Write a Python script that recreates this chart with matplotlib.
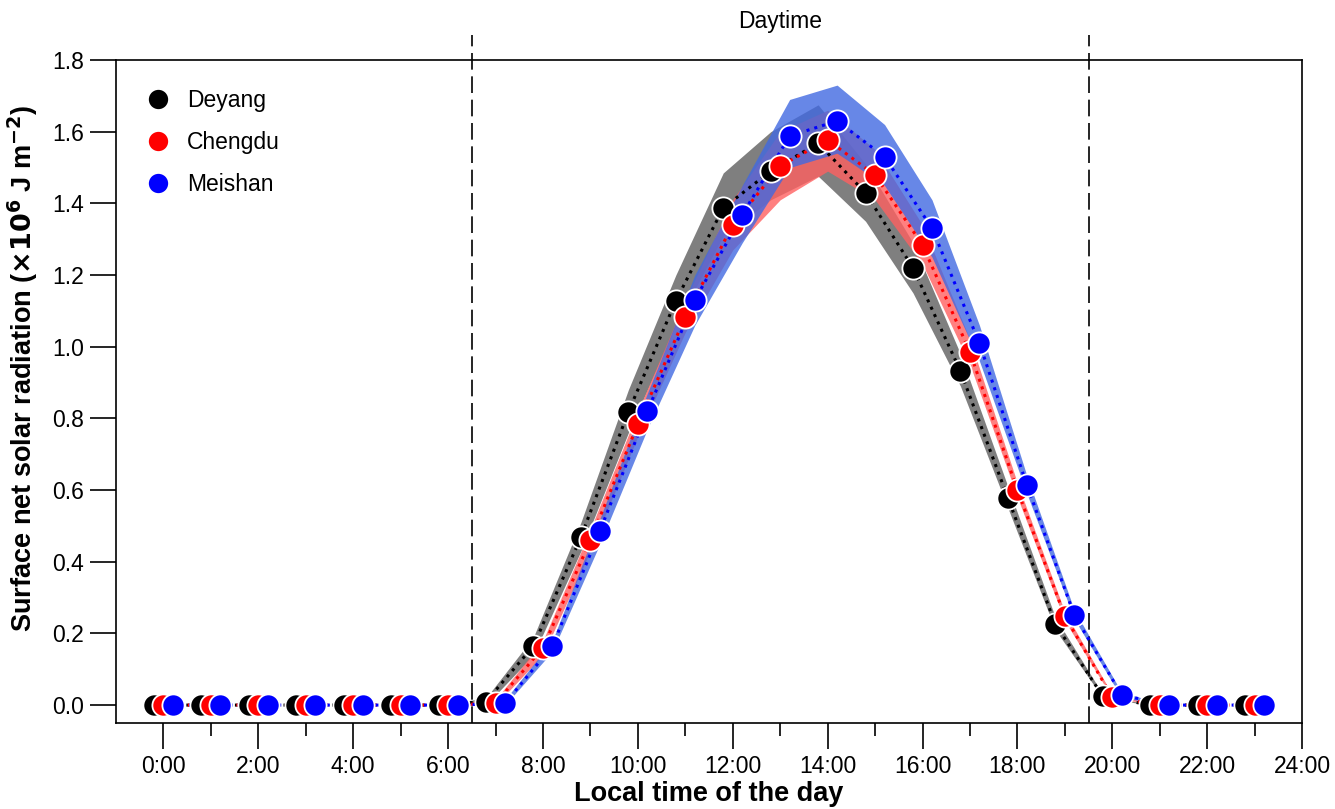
import matplotlib.pyplot as plt
import numpy as np

plt.rcParams['font.family'] = ['Liberation Sans', 'DejaVu Sans']

# Hours of the day and per-city values (x10^6 J m-2)
hours = np.arange(24)
cities = ['Deyang', 'Chengdu', 'Meishan']

deyang = [0, 0, 0, 0, 0, 0, 0, 0.010, 0.165, 0.469, 0.818, 1.128, 1.387, 1.490,
          1.568, 1.429, 1.220, 0.932, 0.578, 0.226, 0.025, 0, 0, 0]
chengdu = [0, 0, 0, 0, 0, 0, 0, 0.005, 0.160, 0.460, 0.784, 1.083, 1.340, 1.504,
           1.577, 1.479, 1.284, 0.985, 0.600, 0.248, 0.022, 0, 0, 0]
meishan = [0, 0, 0, 0, 0, 0, 0, 0.005, 0.165, 0.486, 0.820, 1.130, 1.368, 1.588,
           1.630, 1.530, 1.331, 1.010, 0.614, 0.251, 0.028, 0, 0, 0]

# spread (lower / upper)
deyang_lo = [0, 0, 0, 0, 0, 0, 0, 0.000, 0.140, 0.430, 0.760, 1.060, 1.310, 1.410,
             1.476, 1.350, 1.150, 0.890, 0.550, 0.210, 0.020, 0, 0, 0]
deyang_hi = [0, 0, 0, 0, 0, 0, 0, 0.020, 0.190, 0.510, 0.880, 1.200, 1.485, 1.600,
             1.675, 1.510, 1.290, 0.980, 0.610, 0.245, 0.030, 0, 0, 0]
chengdu_lo = [0, 0, 0, 0, 0, 0, 0, 0.000, 0.140, 0.430, 0.750, 1.040, 1.270, 1.410,
              1.490, 1.410, 1.230, 0.950, 0.580, 0.235, 0.020, 0, 0, 0]
chengdu_hi = [0, 0, 0, 0, 0, 0, 0, 0.015, 0.180, 0.490, 0.820, 1.130, 1.410, 1.600,
              1.660, 1.550, 1.340, 1.020, 0.620, 0.260, 0.030, 0, 0, 0]
meishan_lo = [0, 0, 0, 0, 0, 0, 0, 0.000, 0.150, 0.450, 0.770, 1.060, 1.290, 1.500,
              1.540, 1.450, 1.250, 0.960, 0.590, 0.240, 0.020, 0, 0, 0]
meishan_hi = [0, 0, 0, 0, 0, 0, 0, 0.015, 0.180, 0.520, 0.870, 1.200, 1.450, 1.690,
              1.730, 1.620, 1.410, 1.060, 0.640, 0.265, 0.035, 0, 0, 0]

offsets = [-0.2, 0.0, 0.2]
colors = ['black', 'red', 'blue']
band_colors = ['black', '#ff6060', 'royalblue']
band_alpha = [0.5, 0.8, 0.8]
values = [deyang, chengdu, meishan]
lows = [deyang_lo, chengdu_lo, meishan_lo]
highs = [deyang_hi, chengdu_hi, meishan_hi]

xticks = np.arange(0, 25, 2)
xticklabels = ['%d:00' % h for h in xticks]
yticks = np.arange(0, 1.81, 0.2)
day_start, day_end = 6.5, 19.5

fig = plt.figure(figsize=(13.35, 8.09), dpi=100)
ax = fig.add_axes([0.0869, 0.1063, 0.9753 - 0.0869, 0.9258 - 0.1063])

for i in range(3):
    x = hours + offsets[i]
    ax.fill_between(x, lows[i], highs[i], color=band_colors[i], alpha=band_alpha[i],
                    linewidth=0, zorder=1 + i * 0.1)

for i in range(3):
    x = hours + offsets[i]
    ax.plot(x, values[i], linestyle=':', color=colors[i], lw=2.2, zorder=3)

for i in range(3):
    x = hours + offsets[i]
    ax.plot(x, values[i], linestyle='none', marker='o', ms=16, mfc=colors[i],
            mec='white', mew=1.3, label=cities[i], zorder=4 + i)

# daytime markers
for xd in [day_start, day_end]:
    ax.plot([xd, xd], [-0.05, 1.87], color='black', lw=1.2, linestyle=(0, (10, 4)),
            clip_on=False, zorder=2)
ax.text((day_start + day_end) / 2, 1.875, 'Daytime', ha='center', va='bottom',
        fontsize=16.5)

ax.set_xlim(-1, 24)
ax.set_ylim(-0.05, 1.8)
ax.set_xticks(xticks)
ax.set_xticklabels(xticklabels)
ax.set_xticks(np.arange(1, 24, 2), minor=True)
ax.set_yticks(yticks)
ax.set_yticklabels(['%.1f' % v for v in yticks])
ax.tick_params(axis='both', which='major', direction='out', length=19, width=1.2,
               labelsize=16.5, pad=4)
ax.tick_params(axis='x', which='minor', direction='out', length=9, width=1.2)
for s in ax.spines.values():
    s.set_linewidth(1.2)

ax.set_xlabel('Local time of the day', fontsize=19.5, fontweight='bold', labelpad=2)
ax.set_ylabel(r'Surface net solar radiation ($\mathbf{\times 10^6}$ J m$\mathbf{^{-2}}$)',
              fontsize=19.5, fontweight='bold')
ax.yaxis.set_label_coords(-0.064, 0.535)

ax.legend(loc='upper left', frameon=False, fontsize=16.5, handlelength=1.2,
          handletextpad=0.65, labelspacing=0.84, borderaxespad=0.85, markerscale=0.95)

fig.savefig('out.png', dpi=100)
